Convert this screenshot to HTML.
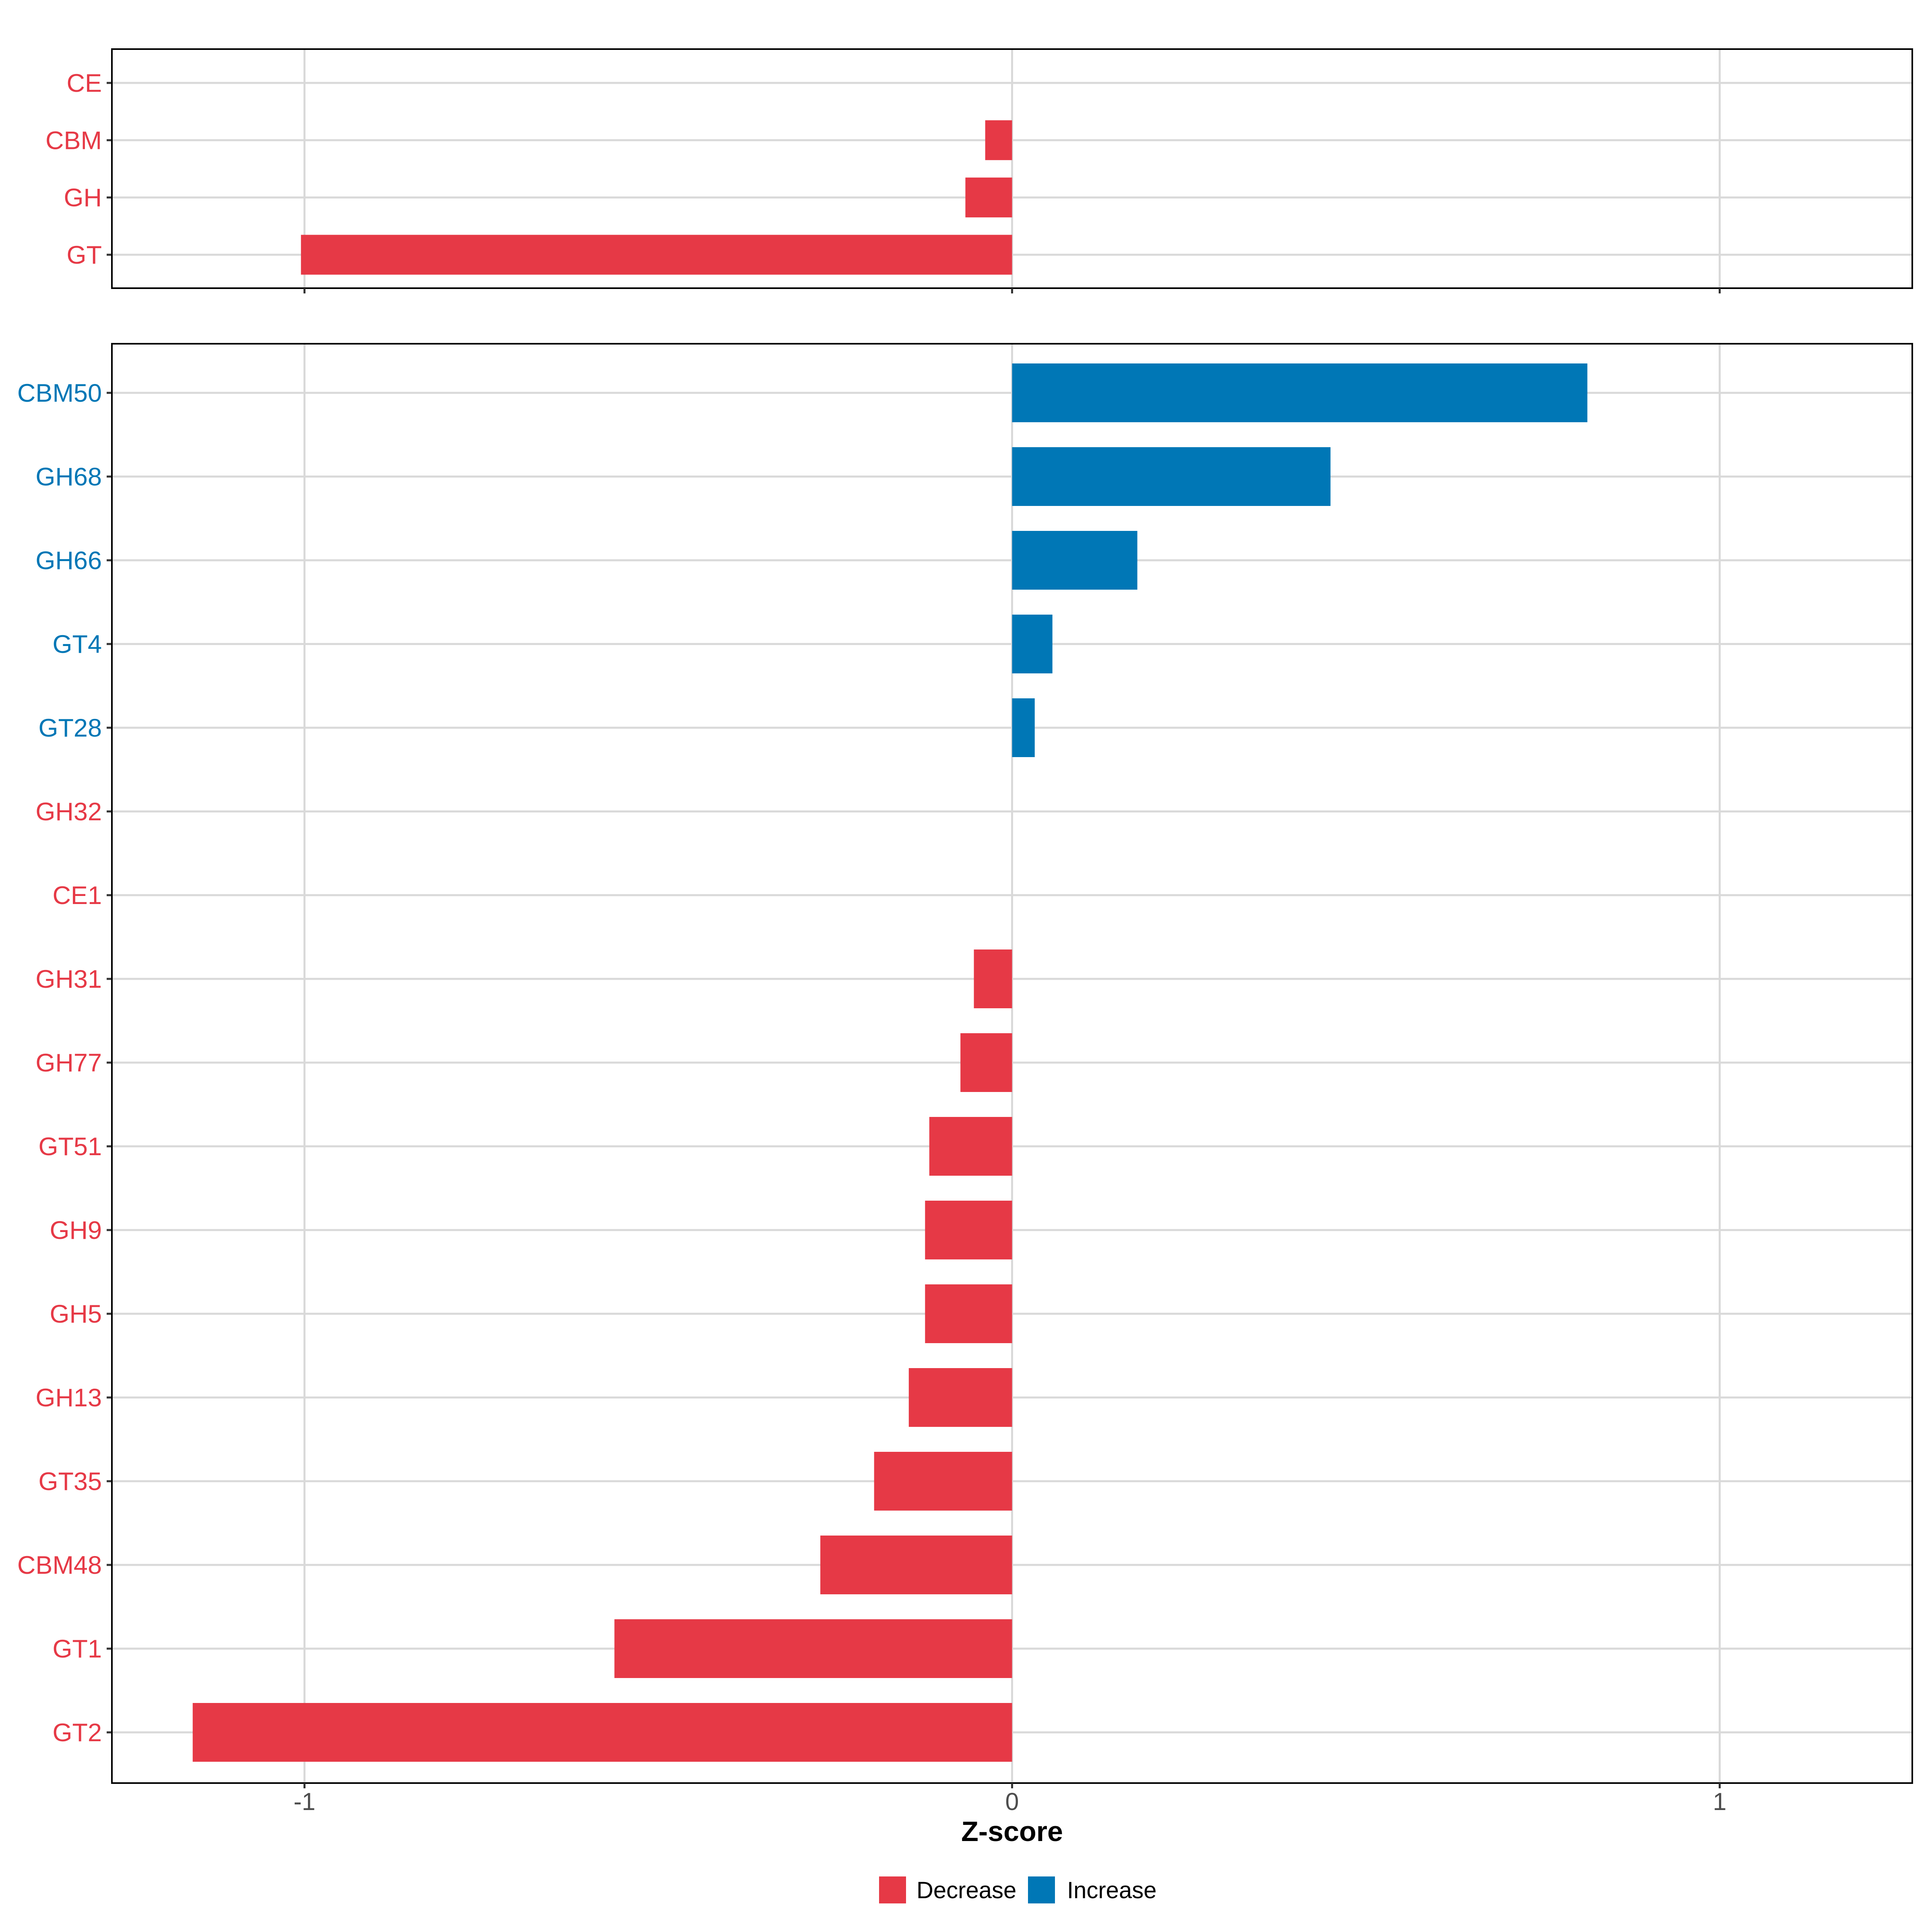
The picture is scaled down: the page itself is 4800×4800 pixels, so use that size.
<!DOCTYPE html>
<html><head><meta charset="utf-8"><style>
html,body{margin:0;padding:0;background:#fff}
svg{display:block;font-family:"Liberation Sans",Arial,sans-serif}
</style></head><body>
<svg id="chart" width="4800" height="4800" viewBox="0 0 4800 4800" xmlns="http://www.w3.org/2000/svg">
<rect width="4800" height="4800" fill="#fff"/>
</svg>
<script>
const topCategories = ["CE","CBM","GH","GT"];
const topValues = [0, -0.038, -0.066, -1.005];
const bottomCategories = ["CBM50","GH68","GH66","GT4","GT28","GH32","CE1","GH31","GH77","GT51","GH9","GH5","GH13","GT35","CBM48","GT1","GT2"];
const bottomValues = [0.813, 0.450, 0.177, 0.057, 0.032, 0, 0, -0.054, -0.073, -0.117, -0.123, -0.123, -0.146, -0.195, -0.271, -0.562, -1.158];
const xTicks = [-1, 0, 1];
const xTickLabels = ["-1", "0", "1"];
const legendLabels = ["Decrease", "Increase"];

const RED = "#E63946", BLUE = "#0077B6", GRID = "#d9d9d9";
const svg = document.getElementById("chart");
const NS = "http://www.w3.org/2000/svg";
const L = 278, R = 4751;
function x(v){ return 2514.5 + v * 1758; }
function mk(tag, attrs, parent){
  const e = document.createElementNS(NS, tag);
  for (const k in attrs) e.setAttribute(k, attrs[k]);
  (parent || svg).appendChild(e);
  return e;
}

function panel(name, top, bottom, cats, vals, y0, step, barH, showX){
  const g = mk("g", {});
  
  
  xTicks.forEach((t) => {
    const gl = mk("line", {x1:x(t), x2:x(t), y1:top, y2:bottom, stroke:GRID, "stroke-width":5}, g);
    
    
  });
  cats.forEach((c, i) => {
    const y = y0 + i * step;
    const hl = mk("line", {x1:L, x2:R, y1:y, y2:y, stroke:GRID, "stroke-width":5}, g);
    
    
  });
  cats.forEach((c, i) => {
    const y = y0 + i * step;
    const v = vals[i];
    const col = v > 0 ? BLUE : RED;
    if (v !== 0) {
      const b = mk("rect", {x:Math.min(x(0), x(v)), y:y - barH/2, width:Math.abs(x(v) - x(0)), height:barH, fill:col}, g);
      
      
    }
    const tk = mk("line", {x1:265, x2:L, y1:y, y2:y, stroke:"#333", "stroke-width":5}, g);
    
    
    const t = mk("text", {x:253, y:y + 22, "text-anchor":"end", "font-size":63, fill:col}, g);
    t.textContent = c;
    
    
  });
  const br = mk("rect", {x:L, y:top, width:R - L, height:bottom - top, fill:"none", stroke:"#000", "stroke-width":4}, g);
  
  
  xTicks.forEach((t, i) => {
    const tk = mk("line", {x1:x(t), x2:x(t), y1:bottom, y2:bottom + 13, stroke:"#333", "stroke-width":5}, g);
    
    
    if (showX) {
      const tl = mk("text", {x:x(t), y:4497, "text-anchor":"middle", "font-size":61, fill:"#4d4d4d"}, g);
      tl.textContent = xTickLabels[i];
      
      
    }
  });
}

panel("top-panel", 122, 716, topCategories, topValues, 206, 142.3, 99, false);
panel("bottom-panel", 854, 4430, bottomCategories, bottomValues, 976, 208.0, 146, true);

const title = mk("text", {x:x(0), y:4574, "text-anchor":"middle", "font-size":70, "font-weight":"bold", fill:"#000"});
title.textContent = "Z-score";



const legend = mk("g", {});


const keyX = [2184, 2554], txtX = [2277, 2651], cols = [RED, BLUE];
legendLabels.forEach((lab, i) => {
  const k = mk("rect", {x:keyX[i], y:4662, width:67, height:67, fill:cols[i]}, legend);
  
  
  const t = mk("text", {x:txtX[i], y:4716, "font-size":58, fill:"#000"}, legend);
  t.textContent = lab;
  
  
});
</script>
</body></html>
